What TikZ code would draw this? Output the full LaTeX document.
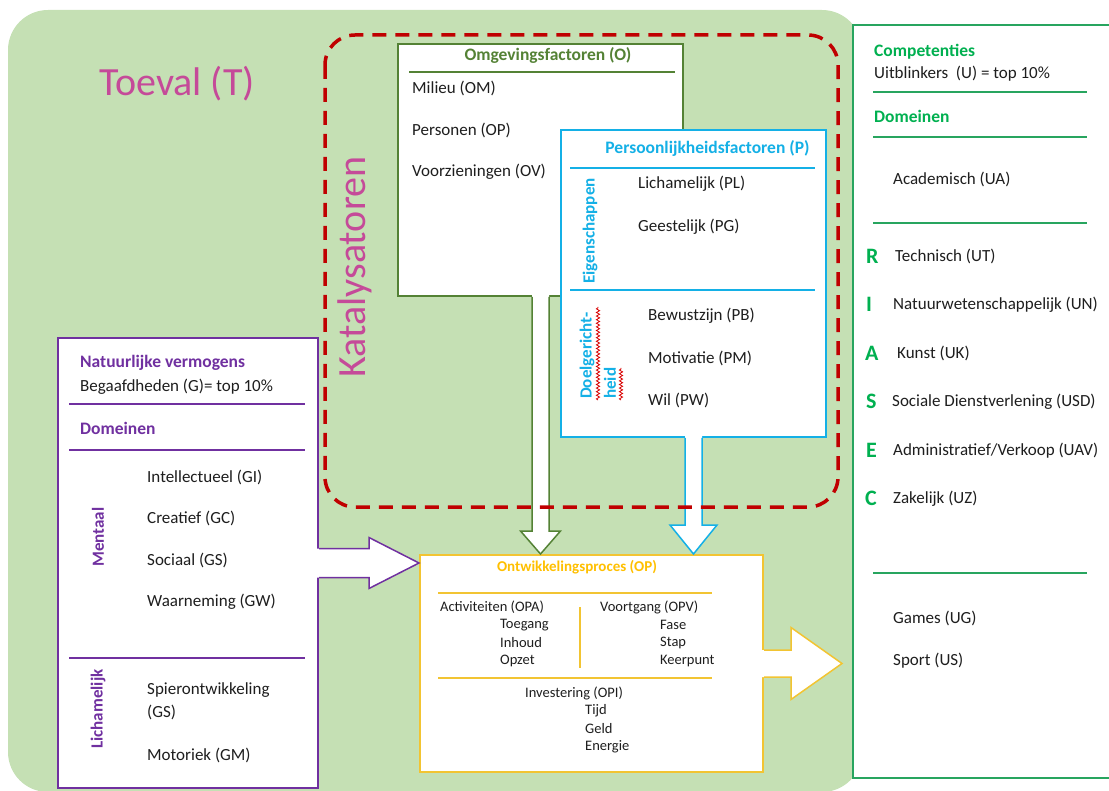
\documentclass[tikz,border=0pt]{standalone}
\usepackage{fontspec}
\setmainfont{Carlito}
\usetikzlibrary{calc,decorations.pathmorphing}
\definecolor{bggreen}{RGB}{197,224,180}
\definecolor{magentat}{RGB}{197,74,153}
\definecolor{dashred}{RGB}{192,0,0}
\definecolor{ogreen}{RGB}{84,130,53}
\definecolor{pcyan}{RGB}{20,176,230}
\definecolor{gpurple}{RGB}{112,48,160}
\definecolor{opyellow}{RGB}{255,192,0}
\definecolor{opborder}{RGB}{242,196,50}
\definecolor{ugreen}{RGB}{0,176,80}
\definecolor{ugborder}{RGB}{40,165,95}
\definecolor{txtgray}{RGB}{30,30,30}
\tikzset{
  box/.style={rectangle, fill=white, line width=2pt, inner sep=0pt},
  txt/.style={font=\fontsize{17}{21}\selectfont, text=txtgray, inner sep=0pt, anchor=west},
  smalltxt/.style={font=\fontsize{14.5}{17}\selectfont, text=txtgray, inner sep=0pt, anchor=west},
  ttl/.style={font=\fontsize{17.5}{21}\selectfont\bfseries, inner sep=0pt},
  vlabel/.style={font=\fontsize{17}{20}\selectfont\bfseries, inner sep=0pt, rotate=90},
  letter/.style={font=\fontsize{22}{24}\selectfont\bfseries, text=ugreen, inner sep=0pt, anchor=west},
  sepline/.style={line width=1.5pt},
  squiggle/.style={red!85!black, line width=0.8pt, decorate, decoration={snake, amplitude=1.6pt, segment length=3.6pt}},
}
\begin{document}
\begin{tikzpicture}[x=1pt,y=-1pt]
\useasboundingbox (0,0) rectangle (1109,791);
% background (Toeval)
\fill[bggreen, rounded corners=40pt] (8,10) rectangle (862,792);
\node[font=\fontsize{40}{42}\selectfont, text=magentat, inner sep=0pt] (toeval) at (177,84) {Toeval (T)};
\node[font=\fontsize{40}{42}\selectfont, text=magentat, inner sep=0pt, rotate=90] (kat) at (355,267) {Katalysatoren};

% boxes
\node[box, draw=gpurple, minimum width=260, minimum height=450] (G) at (188,563) {};
\node[box, draw=ogreen, minimum width=285, minimum height=252] (O) at (540.5,170) {};
\node[box, draw=pcyan, minimum width=265, minimum height=307] (P) at (693.5,283.5) {};
\node[box, draw=opborder, minimum width=343, minimum height=217] (OP) at (591.5,663.5) {};
\node[box, draw=ugborder, minimum width=259, minimum height=753] (U) at (982.5,401.5) {};

% block arrow O -> OP
\coordinate (gt) at (O.south |- OP.north);
\fill[white] ($(O.south)+(-8.5,-3)$) -- ($(gt)+(-8.5,-23)$) -- ($(gt)+(-20,-23)$) -- (gt) -- ($(gt)+(20,-23)$) -- ($(gt)+(8.5,-23)$) -- ($(O.south)+(8.5,-3)$) -- cycle;
\draw[ogreen, line width=1.5pt] ($(O.south)+(-8.5,0)$) -- ($(gt)+(-8.5,-23)$) -- ($(gt)+(-20,-23)$) -- (gt) -- ($(gt)+(20,-23)$) -- ($(gt)+(8.5,-23)$) -- ($(O.south)+(8.5,0)$);

% block arrow P -> OP
\coordinate (pt) at (P.south |- OP.north);
\fill[white] ($(P.south)+(-8.5,-3)$) -- ($(pt)+(-8.5,-29)$) -- ($(pt)+(-23.5,-29)$) -- (pt) -- ($(pt)+(23.5,-29)$) -- ($(pt)+(8.5,-29)$) -- ($(P.south)+(8.5,-3)$) -- cycle;
\draw[pcyan, line width=1.5pt] ($(P.south)+(-8.5,0)$) -- ($(pt)+(-8.5,-29)$) -- ($(pt)+(-23.5,-29)$) -- (pt) -- ($(pt)+(23.5,-29)$) -- ($(pt)+(8.5,-29)$) -- ($(P.south)+(8.5,0)$);

% block arrow G -> OP
\coordinate (gg) at (G.east -| OP.west);
\fill[white] ($(G.east)+(-3,-14.5)$) -- ($(gg)+(-50,-14.5)$) -- ($(gg)+(-50,-25.5)$) -- (gg) -- ($(gg)+(-50,25.5)$) -- ($(gg)+(-50,14.5)$) -- ($(G.east)+(-3,14.5)$) -- cycle;
\draw[gpurple, line width=1.5pt] ($(G.east)+(0,-14.5)$) -- ($(gg)+(-50,-14.5)$) -- ($(gg)+(-50,-25.5)$) -- (gg) -- ($(gg)+(-50,25.5)$) -- ($(gg)+(-50,14.5)$) -- ($(G.east)+(0,14.5)$);

% block arrow OP -> U
\coordinate (ut) at ($(OP.east -| U.west)+(-10,0)$);
\fill[white] ($(OP.east)+(-3,-13.5)$) -- ($(ut)+(-51,-13.5)$) -- ($(ut)+(-51,-36)$) -- (ut) -- ($(ut)+(-51,36)$) -- ($(ut)+(-51,13.5)$) -- ($(OP.east)+(-3,13.5)$) -- cycle;
\draw[opborder, line width=1.5pt] ($(OP.east)+(0,-13.5)$) -- ($(ut)+(-51,-13.5)$) -- ($(ut)+(-51,-36)$) -- (ut) -- ($(ut)+(-51,36)$) -- ($(ut)+(-51,13.5)$) -- ($(OP.east)+(0,13.5)$);

% Katalysatoren dashed frame
\draw[dashred, line width=3.5pt, rounded corners=30pt, dash pattern=on 14pt off 9pt] (325,35) rectangle (838,507);

% Omgevingsfactoren
\node[ttl, text=ogreen] (Ot) at (548,55) {Omgevingsfactoren (O)};
\draw[ogreen, sepline] (409,72) -- (675,72);
\node[txt] (om) at (412,88) {Milieu (OM)};
\node[txt] (op) at (412,130) {Personen (OP)};
\node[txt] (ov) at (412,172) {Voorzieningen (OV)};

% Persoonlijkheidsfactoren
\node[ttl, text=pcyan] (Pt) at (707.5,148) {Persoonlijkheidsfactoren (P)};
\draw[pcyan, sepline] (570,168) -- (815,168);
\draw[pcyan, sepline] (570,290) -- (815,290);
\node[vlabel, text=pcyan] (eig) at (590,231) {Eigenschappen};
\node[txt] (pl) at (638,184) {Lichamelijk (PL)};
\node[txt] (pg) at (638,227) {Geestelijk (PG)};
\node[vlabel, text=pcyan, anchor=west] (doel1) at (587,399) {Doelgericht-};
\node[vlabel, text=pcyan, anchor=west] (doel2) at (610,399) {heid};
\draw[squiggle] (598,400) -- (598,307);
\draw[squiggle] (621,400) -- (621,368);
\node[txt] (pb) at (648,316) {Bewustzijn (PB)};
\node[txt] (pm) at (648,358) {Motivatie (PM)};
\node[txt] (pw) at (648,400) {Wil (PW)};

% Natuurlijke vermogens
\node[ttl, text=gpurple, anchor=west] (Gt) at (80,363) {Natuurlijke vermogens};
\node[txt] (gb) at (80,387) {Begaafdheden (G)= top 10\%};
\draw[gpurple, sepline] (69,404) -- (305,404);
\node[ttl, text=gpurple, anchor=west] (Gd) at (80,428) {Domeinen};
\draw[gpurple, sepline] (69,450) -- (305,450);
\node[vlabel, text=gpurple] (ment) at (98,537) {Mentaal};
\node[txt] (gi) at (147,477) {Intellectueel (GI)};
\node[txt] (gc) at (147,518) {Creatief (GC)};
\node[txt] (gs) at (147,560) {Sociaal (GS)};
\node[txt] (gw) at (147,602) {Waarneming (GW)};
\draw[gpurple, sepline] (69,658) -- (305,658);
\node[vlabel, text=gpurple] (lich) at (98,709) {Lichamelijk};
\node[txt, align=left, font=\fontsize{17}{23}\selectfont] (gsp) at (147,701.5) {Spierontwikkeling\\(GS)};
\node[txt] (gm) at (147,755) {Motoriek (GM)};

% Ontwikkelingsproces
\node[ttl, font=\fontsize{15}{18}\selectfont\bfseries, text=opyellow] (OPt) at (577,567) {Ontwikkelingsproces (OP)};
\draw[opborder, sepline] (438,593) -- (712,593);
\draw[opborder, sepline] (580,607) -- (580,668);
\draw[opborder, sepline] (438,678) -- (712,678);
\node[smalltxt] (opa) at (440,607) {Activiteiten (OPA)};
\node[smalltxt] (opa1) at (500,625) {Toegang};
\node[smalltxt] (opa2) at (500,643) {Inhoud};
\node[smalltxt] (opa3) at (500,661) {Opzet};
\node[smalltxt] (opv) at (600,607) {Voortgang (OPV)};
\node[smalltxt] (opv1) at (660,625) {Fase};
\node[smalltxt] (opv2) at (660,643) {Stap};
\node[smalltxt] (opv3) at (660,661) {Keerpunt};
\node[smalltxt] (opi) at (525,693) {Investering (OPI)};
\node[smalltxt] (opi1) at (585,711) {Tijd};
\node[smalltxt] (opi2) at (585,729) {Geld};
\node[smalltxt] (opi3) at (585,747) {Energie};

% Competenties
\node[ttl, text=ugreen, anchor=west] (Ut) at (874,52) {Competenties};
\node[txt] (ub) at (874,74) {Uitblinkers\ \ (U) = top 10\%};
\draw[ugborder, sepline] (873,92) -- (1087,92);
\node[ttl, text=ugreen, anchor=west] (Ud) at (874,116) {Domeinen};
\draw[ugborder, sepline] (873,137) -- (1087,137);
\node[txt] (ua) at (893,179) {Academisch (UA)};
\draw[ugborder, sepline] (873,223) -- (1087,223);
\node[letter] (lR) at (866,256) {R};
\node[txt] (ut1) at (895,256) {Technisch (UT)};
\node[letter] (lI) at (866,304) {I};
\node[txt] (un) at (893,305) {Natuurwetenschappelijk (UN)};
\node[letter] (lA) at (865,353) {A};
\node[txt] (uk) at (897,353) {Kunst (UK)};
\node[letter] (lS) at (866,401) {S};
\node[txt] (usd) at (892,402) {Sociale Dienstverlening (USD)};
\node[letter] (lE) at (866,450) {E};
\node[txt] (uav) at (893,451) {Administratief/Verkoop (UAV)};
\node[letter] (lC) at (865,498) {C};
\node[txt] (uz) at (893,499) {Zakelijk (UZ)};
\draw[ugborder, sepline] (873,573) -- (1087,573);
\node[txt] (ug) at (893,618) {Games (UG)};
\node[txt] (us) at (893,661) {Sport (US)};
\end{tikzpicture}
\end{document}
